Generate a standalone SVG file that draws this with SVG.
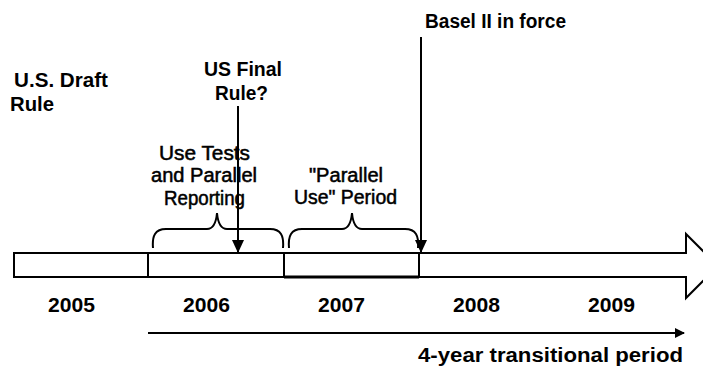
<svg xmlns="http://www.w3.org/2000/svg" width="703" height="366" viewBox="0 0 703 366">
  <style>
    .lbl { font-family: "Liberation Sans", Arial, sans-serif; font-size: 19.5px; fill: #000; }
    .b { font-weight: bold; }
    .r { stroke: #000; stroke-width: 0.5; }
    .line { fill: none; stroke: #000; stroke-width: 2; }
  </style>
  <defs>
    <marker id="head" markerWidth="10" markerHeight="10" refX="9" refY="5" orient="auto" markerUnits="userSpaceOnUse">
      <path d="M0,0 L10,5 L0,10 Z" fill="#000"/>
    </marker>
    <marker id="headV" markerWidth="12" markerHeight="14" refX="6" refY="13" orient="0" markerUnits="userSpaceOnUse">
      <path d="M0,0 L12,0 L6,13 Z" fill="#000"/>
    </marker>
  </defs>
  <rect width="703" height="366" fill="#fff"/>

  <!-- timeline bar -->
  <g id="timeline">
    <rect x="14" y="253" width="405" height="24" class="line"/>
    <line x1="148" y1="253" x2="148" y2="277" class="line"/>
    <line x1="284" y1="253" x2="284" y2="277" class="line"/>
    <line x1="284" y1="277" x2="419" y2="277" stroke="#000" stroke-width="3"/>
    <path d="M419,253 H686 V234 L718,266 L686,298 V277 H419" class="line"/>
  </g>

  <!-- year labels -->
  <g id="years">
    <text class="lbl b" x="48" y="312" textLength="47" lengthAdjust="spacingAndGlyphs">2005</text>
    <text class="lbl b" x="183" y="312" textLength="47" lengthAdjust="spacingAndGlyphs">2006</text>
    <text class="lbl b" x="318" y="312" textLength="47" lengthAdjust="spacingAndGlyphs">2007</text>
    <text class="lbl b" x="453" y="312" textLength="47" lengthAdjust="spacingAndGlyphs">2008</text>
    <text class="lbl b" x="588" y="312" textLength="47" lengthAdjust="spacingAndGlyphs">2009</text>
  </g>

  <g id="draft-rule">
    <text class="lbl b" x="14" y="87" textLength="94" lengthAdjust="spacingAndGlyphs">U.S. Draft</text>
    <text class="lbl b" x="10" y="111" textLength="44" lengthAdjust="spacingAndGlyphs">Rule</text>
  </g>

  <g id="final-rule">
    <text class="lbl b" x="204" y="76" textLength="78" lengthAdjust="spacingAndGlyphs">US Final</text>
    <text class="lbl b" x="215" y="100" textLength="53" lengthAdjust="spacingAndGlyphs">Rule?</text>
  </g>

  <g id="basel-ii">
    <text class="lbl b" x="425" y="28" textLength="141" lengthAdjust="spacingAndGlyphs">Basel II in force</text>
  </g>

  <g id="use-tests">
    <text class="lbl r" x="159" y="160" textLength="91" lengthAdjust="spacingAndGlyphs">Use Tests</text>
    <text class="lbl r" x="151" y="182" textLength="106" lengthAdjust="spacingAndGlyphs">and Parallel</text>
    <text class="lbl r" x="164" y="205" textLength="81" lengthAdjust="spacingAndGlyphs">Reporting</text>
    <path d="M153,248 C152,236 155,229 166,229 H207 C213,229 216,224 217,213 C218,224 221,229 227,229 H270 C281,229 284,236 283,248" class="line"/>
  </g>

  <g id="parallel-use">
    <text class="lbl r" x="309" y="182" textLength="74" lengthAdjust="spacingAndGlyphs">"Parallel</text>
    <text class="lbl r" x="294" y="204" textLength="103" lengthAdjust="spacingAndGlyphs">Use" Period</text>
    <path d="M289,248 C288,236 291,229 302,229 H342 C348,229 351,224 352,213 C353,224 356,229 362,229 H405 C416,229 419,236 418,248" class="line"/>
  </g>

  <g id="transition">
    <text class="lbl b" x="418" y="362" textLength="265" lengthAdjust="spacingAndGlyphs">4-year transitional period</text>
  </g>

  <!-- connectors -->
  <g id="connectors">
    <line x1="238" y1="106" x2="238" y2="253" class="line" marker-end="url(#headV)"/>
    <line x1="421" y1="37" x2="421" y2="253" class="line" marker-end="url(#headV)"/>
    <line x1="148" y1="333" x2="684" y2="333" class="line" marker-end="url(#head)"/>
  </g>
</svg>
